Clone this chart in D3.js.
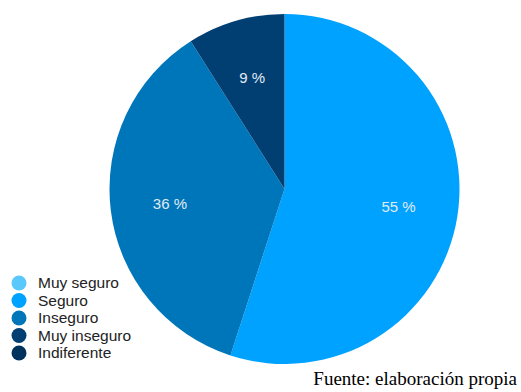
<!DOCTYPE html>
<html>
<head>
<meta charset="utf-8">
<script src="https://cdn.jsdelivr.net/npm/d3@7"></script>
<style>
  html, body { margin: 0; padding: 0; background: #fff; }
  svg { display: block; }
</style>
</head>
<body>
<svg id="chart" width="521" height="392"></svg>
<script>
// Categories and their shares (%)
const categories = ["Muy seguro", "Seguro", "Inseguro", "Muy inseguro", "Indiferente"];
const values = [0, 55, 36, 9, 0];
const colors = ["#5ac8fa", "#00a2ff", "#0076ba", "#013f73", "#00325e"];
const sourceText = "Fuente: elaboración propia";

const svg = d3.select("#chart");
const cx = 284.5, cy = 189, radius = 175;

const data = categories.map((c, i) => ({ name: c, value: values[i], color: colors[i] }));

const pie = d3.pie().value(d => d.value).sort(null);
const arc = d3.arc().innerRadius(0).outerRadius(radius);
const labelArc = d3.arc().innerRadius(radius * 0.66).outerRadius(radius * 0.66);

const g = svg.append("g").attr("transform", `translate(${cx},${cy})`);
const arcs = pie(data).filter(d => d.data.value > 0);

g.selectAll("path.slice")
  .data(arcs)
  .join("path")
  .attr("class", "slice")
  .attr("d", arc)
  .attr("fill", d => d.data.color);

g.selectAll("text.value")
  .data(arcs)
  .join("text")
  .attr("class", "value")
  .attr("transform", d => `translate(${labelArc.centroid(d)})`)
  .attr("text-anchor", "middle")
  .attr("dy", "0.35em")
  .attr("font-family", "Liberation Sans, Arial, sans-serif")
  .attr("font-size", 15)
  .attr("fill", "#e3ebf3")
  .text(d => `${d.data.value} %`);

// Legend
const legend = svg.append("g").attr("transform", "translate(19,283)");
const items = legend.selectAll("g.item")
  .data(data)
  .join("g")
  .attr("class", "item")
  .attr("transform", (d, i) => `translate(0,${i * 17.5})`);

items.append("circle")
  .attr("r", 7.5)
  .attr("fill", d => d.color);

items.append("text")
  .attr("x", 19)
  .attr("dy", "0.35em")
  .attr("font-family", "Liberation Sans, Arial, sans-serif")
  .attr("font-size", 15.5)
  .attr("fill", "#222")
  .text(d => d.name);

// Source note
svg.append("text")
  .attr("x", 517)
  .attr("y", 385)
  .attr("text-anchor", "end")
  .attr("font-family", "Liberation Serif, Times New Roman, serif")
  .attr("font-size", 19)
  .attr("fill", "#000")
  .text(sourceText);
</script>
</body>
</html>
